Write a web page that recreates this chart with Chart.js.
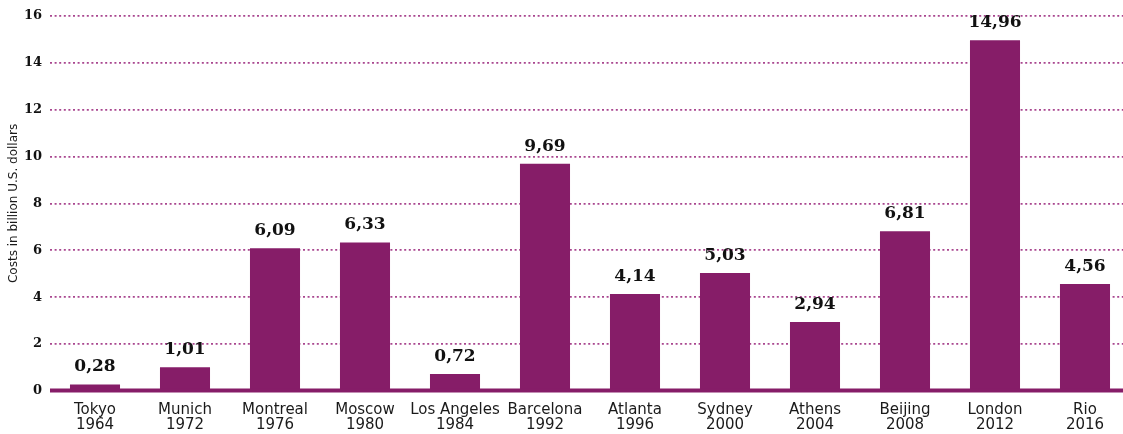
<!DOCTYPE html>
<html>
<head>
<meta charset="utf-8">
<script src="https://cdn.jsdelivr.net/npm/chart.js@4.4.1/dist/chart.umd.min.js"></script>
<style>
  html, body { margin: 0; padding: 0; background: #ffffff; overflow: hidden; }
  #wrap { width: 1130px; height: 434px; position: relative; }
</style>
</head>
<body>
<div id="wrap"><canvas id="chart"></canvas></div>
<script>
// Olympic host cities and games year
const cities = ["Tokyo", "Munich", "Montreal", "Moscow", "Los Angeles", "Barcelona",
                "Atlanta", "Sydney", "Athens", "Beijing", "London", "Rio"];
const years = ["1964", "1972", "1976", "1980", "1984", "1992",
               "1996", "2000", "2004", "2008", "2012", "2016"];
// Costs in billion U.S. dollars
const costs = [0.28, 1.01, 6.09, 6.33, 0.72, 9.69, 4.14, 5.03, 2.94, 6.81, 14.96, 4.56];
const yTicks = [0, 2, 4, 6, 8, 10, 12, 14, 16];

const PURPLE = "#861d68";
const GRID = "#a9468f";

const labels = cities.map((c, i) => [c, years[i]]);
const fmt = v => v.toFixed(2).replace(".", ",");

// Value labels above each bar
const valueLabels = {
  id: "valueLabels",
  afterDatasetsDraw(chart) {
    const ctx = chart.ctx;
    const meta = chart.getDatasetMeta(0);
    ctx.save();
    ctx.font = "bold 17px 'DejaVu Serif'";
    ctx.fillStyle = "#111111";
    ctx.textAlign = "center";
    ctx.textBaseline = "bottom";
    meta.data.forEach((bar, i) => {
      ctx.fillText(fmt(costs[i]), bar.x, bar.y - 9);
    });
    ctx.restore();
  }
};

// Heavy baseline at zero across the plot
const baseline = {
  id: "baseline",
  afterDatasetsDraw(chart) {
    const ctx = chart.ctx;
    const y = chart.scales.y.getPixelForValue(0);
    ctx.save();
    ctx.strokeStyle = PURPLE;
    ctx.lineWidth = 4;
    ctx.beginPath();
    ctx.moveTo(chart.chartArea.left, y - 0.5);
    ctx.lineTo(chart.width, y - 0.5);
    ctx.stroke();
    ctx.restore();
  }
};

new Chart(document.getElementById("chart"), {
  type: "bar",
  data: {
    labels: labels,
    datasets: [{
      data: costs,
      backgroundColor: PURPLE,
      borderWidth: 0,
      barPercentage: 0.556,
      categoryPercentage: 1.0
    }]
  },
  options: {
    responsive: true,
    maintainAspectRatio: false,
    animation: false,
    layout: { padding: { top: 6, right: 0, bottom: 0, left: 4 } },
    plugins: { legend: { display: false }, tooltip: { enabled: false } },
    scales: {
      x: {
        afterFit(scale) { scale.height = 43; },
        grid: { display: false, drawTicks: false },
        border: { display: false },
        ticks: {
          color: "#1a1a1a",
          font: { family: "DejaVu Sans", size: 15, lineHeight: 1.0 },
          padding: 12,
          maxRotation: 0,
          autoSkip: false
        }
      },
      y: {
        min: 0,
        max: 16,
        afterBuildTicks(scale) { scale.ticks = yTicks.map(v => ({ value: v })); },
        afterFit(scale) { scale.width = 46; },
        grid: {
          color: GRID,
          lineWidth: 1.8,
          drawTicks: false
        },
        border: { display: false, dash: [2, 2.6] },
        ticks: {
          color: "#111111",
          font: { family: "'DejaVu Serif'", size: 13, weight: "bold" },
          padding: 8
        },
        title: {
          display: true,
          text: "Costs in billion U.S. dollars",
          color: "#1a1a1a",
          font: { family: "DejaVu Sans", size: 12 },
          padding: { top: 3, bottom: 3 }
        }
      }
    }
  },
  plugins: [valueLabels, baseline]
});
</script>
</body>
</html>
